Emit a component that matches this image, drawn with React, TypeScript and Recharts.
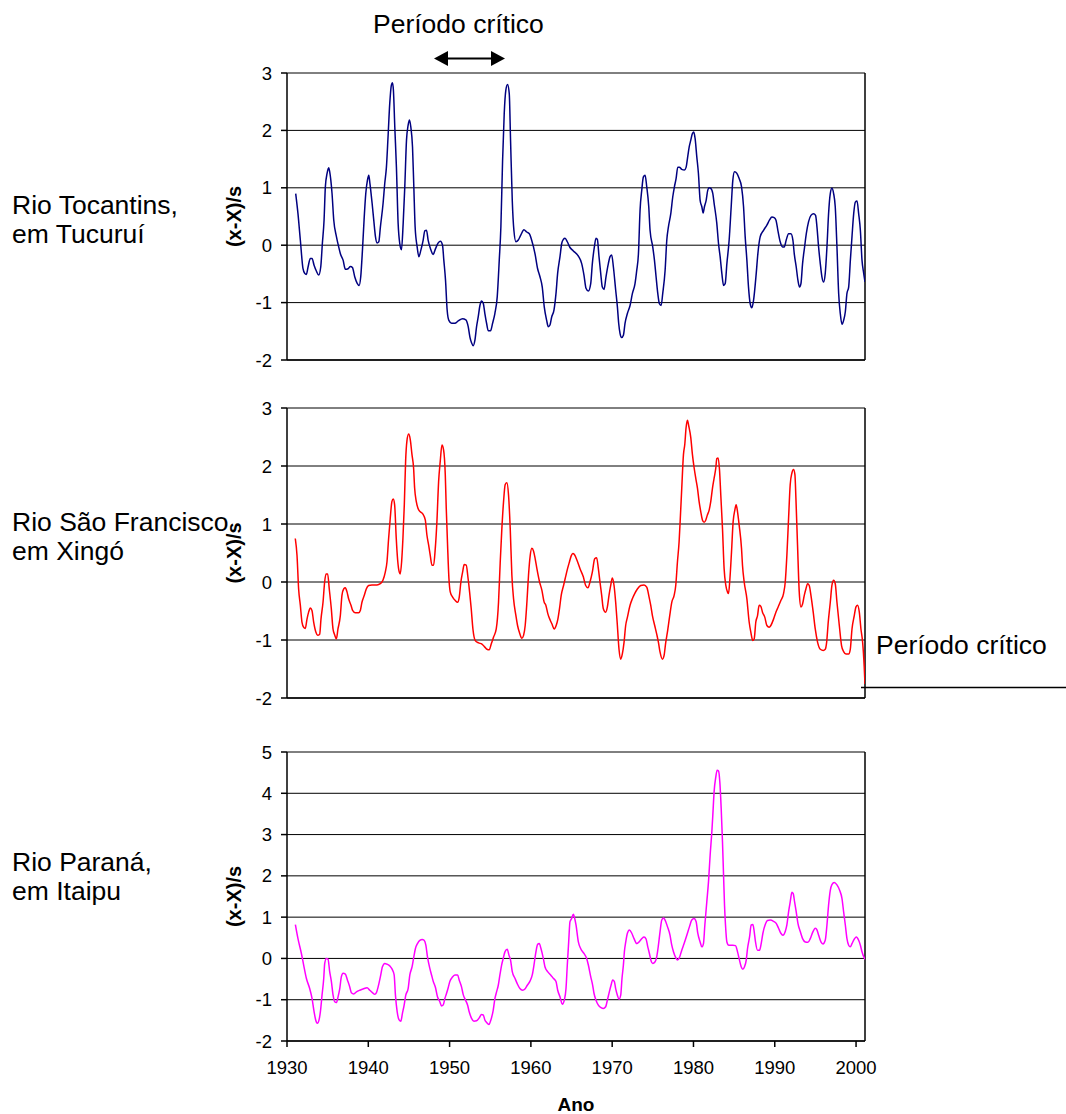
import { LineChart, Line, XAxis, YAxis, CartesianGrid, ReferenceLine, Label } from "recharts";

const FONT = '"Liberation Sans", Arial, sans-serif';

// eixo x comum
const anos = [1930, 1940, 1950, 1960, 1970, 1980, 1990, 2000];
const dominioAnos: [number, number] = [1930, 2001.1];

const ticksTocantins = [-2, -1, 0, 1, 2, 3];
const ticksSaoFrancisco = [-2, -1, 0, 1, 2, 3];
const ticksParana = [-2, -1, 0, 1, 2, 3, 4, 5];

// [ano, (x-X)/s]
const tocantins: [number, number][] = [
	[1931.07, 0.9], [1931.35, 0.55], [1931.64, 0.09], [1931.97, -0.41], [1932.18, -0.49], [1932.38, -0.51], [1932.59, -0.38], [1932.87, -0.23], [1933.08, -0.23], [1933.33, -0.35], [1933.61, -0.45], [1933.9, -0.52], [1934.15, -0.38], [1934.35, 0.03], [1934.56, 0.44], [1934.72, 1.02], [1934.93, 1.25], [1935.13, 1.35], [1935.25, 1.28], [1935.54, 0.9], [1935.75, 0.44], [1936.08, 0.15], [1936.36, -0.03], [1936.57, -0.15], [1936.9, -0.26], [1937.18, -0.42], [1937.51, -0.41], [1937.8, -0.37], [1938.05, -0.39], [1938.33, -0.55], [1938.62, -0.66], [1938.87, -0.7], [1939.07, -0.55], [1939.28, -0.09], [1939.48, 0.44], [1939.69, 0.9], [1939.89, 1.13], [1940.06, 1.22], [1940.18, 1.1], [1940.47, 0.73], [1940.67, 0.44], [1940.88, 0.15], [1941.08, 0.04], [1941.29, 0.06], [1941.49, 0.32], [1941.82, 0.73], [1942.02, 1.07], [1942.23, 1.36], [1942.43, 1.89], [1942.64, 2.47], [1942.84, 2.79], [1942.97, 2.83], [1943.09, 2.7], [1943.26, 2.06], [1943.46, 1.36], [1943.67, 0.38], [1943.87, 0.03], [1944.08, -0.08], [1944.29, 0.38], [1944.49, 1.02], [1944.7, 1.83], [1944.9, 2.09], [1945.07, 2.18], [1945.23, 2.06], [1945.44, 1.71], [1945.6, 1.02], [1945.76, 0.32], [1946.01, -0.03], [1946.22, -0.2], [1946.46, -0.09], [1946.75, 0.09], [1946.95, 0.25], [1947.16, 0.26], [1947.36, 0.09], [1947.65, -0.06], [1947.98, -0.16], [1948.27, -0.06], [1948.6, 0.04], [1948.88, 0.07], [1949.13, 0.0], [1949.29, -0.26], [1949.5, -0.61], [1949.7, -1.13], [1949.91, -1.31], [1950.24, -1.36], [1950.65, -1.36], [1951.06, -1.32], [1951.59, -1.28], [1952.0, -1.3], [1952.29, -1.42], [1952.5, -1.6], [1952.7, -1.7], [1952.91, -1.75], [1953.11, -1.66], [1953.32, -1.42], [1953.52, -1.25], [1953.73, -1.05], [1953.93, -0.97], [1954.14, -1.01], [1954.34, -1.19], [1954.55, -1.36], [1954.75, -1.49], [1955.04, -1.49], [1955.29, -1.36], [1955.57, -1.19], [1955.86, -0.9], [1956.11, -0.26], [1956.31, 0.32], [1956.52, 1.48], [1956.72, 2.29], [1956.92, 2.7], [1957.13, 2.8], [1957.34, 2.64], [1957.5, 1.83], [1957.71, 0.78], [1957.91, 0.26], [1958.16, 0.06], [1958.45, 0.09], [1958.74, 0.17], [1959.15, 0.27], [1959.48, 0.23], [1959.81, 0.2], [1960.09, 0.09], [1960.51, -0.15], [1960.83, -0.41], [1961.12, -0.55], [1961.4, -0.73], [1961.65, -1.08], [1961.94, -1.31], [1962.14, -1.42], [1962.35, -1.39], [1962.56, -1.25], [1962.84, -1.13], [1963.09, -0.84], [1963.29, -0.49], [1963.58, -0.2], [1963.79, 0.03], [1963.99, 0.1], [1964.2, 0.12], [1964.48, 0.06], [1964.81, -0.04], [1965.22, -0.1], [1965.84, -0.19], [1966.25, -0.32], [1966.53, -0.52], [1966.78, -0.75], [1967.07, -0.8], [1967.36, -0.67], [1967.56, -0.32], [1967.81, -0.03], [1968.01, 0.12], [1968.18, 0.1], [1968.38, -0.2], [1968.59, -0.49], [1968.79, -0.73], [1969.0, -0.77], [1969.24, -0.55], [1969.53, -0.32], [1969.74, -0.2], [1969.94, -0.17], [1970.15, -0.38], [1970.43, -0.78], [1970.64, -1.07], [1970.8, -1.36], [1970.97, -1.54], [1971.17, -1.61], [1971.38, -1.57], [1971.58, -1.36], [1971.87, -1.19], [1972.2, -1.05], [1972.49, -0.84], [1972.81, -0.67], [1973.02, -0.44], [1973.23, -0.15], [1973.43, 0.61], [1973.64, 0.96], [1973.84, 1.19], [1974.05, 1.22], [1974.25, 1.02], [1974.5, 0.67], [1974.66, 0.26], [1974.99, -0.03], [1975.2, -0.26], [1975.4, -0.55], [1975.61, -0.84], [1975.81, -1.02], [1976.02, -1.05], [1976.22, -0.84], [1976.51, -0.44], [1976.72, 0.09], [1976.92, 0.32], [1977.21, 0.55], [1977.45, 0.84], [1977.66, 1.02], [1977.86, 1.16], [1978.07, 1.36], [1978.27, 1.36], [1978.56, 1.32], [1978.89, 1.31], [1979.1, 1.36], [1979.26, 1.51], [1979.47, 1.71], [1979.67, 1.83], [1979.88, 1.95], [1980.04, 1.97], [1980.2, 1.86], [1980.41, 1.54], [1980.61, 1.25], [1980.82, 0.78], [1981.03, 0.67], [1981.19, 0.56], [1981.35, 0.67], [1981.56, 0.78], [1981.76, 0.96], [1981.93, 1.0], [1982.13, 0.99], [1982.38, 0.9], [1982.54, 0.73], [1982.87, 0.38], [1983.08, 0.03], [1983.28, -0.2], [1983.49, -0.49], [1983.7, -0.7], [1983.9, -0.67], [1984.11, -0.32], [1984.39, 0.09], [1984.64, 0.67], [1984.84, 1.13], [1985.05, 1.28], [1985.34, 1.25], [1985.62, 1.16], [1985.91, 1.02], [1986.16, 0.67], [1986.36, 0.15], [1986.57, -0.26], [1986.77, -0.73], [1986.98, -1.02], [1987.18, -1.09], [1987.39, -0.96], [1987.72, -0.49], [1987.92, -0.15], [1988.21, 0.15], [1988.62, 0.26], [1989.03, 0.35], [1989.36, 0.44], [1989.65, 0.49], [1989.93, 0.48], [1990.14, 0.44], [1990.38, 0.26], [1990.67, 0.06], [1990.96, -0.03], [1991.17, -0.03], [1991.41, 0.09], [1991.7, 0.2], [1991.99, 0.2], [1992.23, 0.09], [1992.4, -0.15], [1992.64, -0.38], [1992.85, -0.61], [1993.05, -0.73], [1993.22, -0.67], [1993.42, -0.32], [1993.67, -0.03], [1993.88, 0.2], [1994.16, 0.41], [1994.45, 0.52], [1994.78, 0.55], [1995.02, 0.52], [1995.19, 0.32], [1995.39, -0.03], [1995.6, -0.32], [1995.8, -0.55], [1996.01, -0.64], [1996.21, -0.49], [1996.42, -0.03], [1996.62, 0.55], [1996.83, 0.9], [1997.03, 0.99], [1997.24, 0.9], [1997.44, 0.67], [1997.65, -0.03], [1997.86, -0.84], [1998.06, -1.19], [1998.27, -1.38], [1998.47, -1.31], [1998.68, -1.16], [1998.88, -0.84], [1999.09, -0.73], [1999.3, -0.26], [1999.5, 0.15], [1999.71, 0.55], [1999.91, 0.75], [2000.12, 0.77], [2000.32, 0.55], [2000.53, 0.26], [2000.73, -0.26], [2000.94, -0.49], [2001.1, -0.64],
];

const saoFrancisco: [number, number][] = [
	[1931.02, 0.75], [1931.23, 0.46], [1931.43, -0.12], [1931.64, -0.4], [1931.84, -0.69], [1932.05, -0.78], [1932.25, -0.8], [1932.46, -0.64], [1932.66, -0.52], [1932.87, -0.45], [1933.07, -0.49], [1933.28, -0.69], [1933.57, -0.87], [1933.77, -0.92], [1934.02, -0.9], [1934.18, -0.64], [1934.43, -0.35], [1934.63, 0.0], [1934.8, 0.14], [1935.0, 0.14], [1935.2, -0.12], [1935.45, -0.46], [1935.66, -0.81], [1935.86, -0.91], [1936.07, -0.98], [1936.27, -0.81], [1936.56, -0.58], [1936.76, -0.23], [1936.97, -0.12], [1937.17, -0.1], [1937.38, -0.17], [1937.58, -0.29], [1937.87, -0.4], [1938.07, -0.49], [1938.4, -0.53], [1938.81, -0.53], [1939.02, -0.49], [1939.22, -0.35], [1939.51, -0.23], [1939.75, -0.12], [1940.04, -0.06], [1940.45, -0.05], [1941.07, -0.05], [1941.48, -0.03], [1941.8, 0.03], [1942.09, 0.17], [1942.3, 0.35], [1942.5, 0.75], [1942.7, 1.1], [1942.91, 1.39], [1943.07, 1.43], [1943.24, 1.33], [1943.44, 0.75], [1943.61, 0.38], [1943.81, 0.17], [1943.93, 0.14], [1944.1, 0.35], [1944.26, 0.75], [1944.43, 1.33], [1944.59, 2.08], [1944.75, 2.43], [1944.96, 2.55], [1945.16, 2.46], [1945.37, 2.2], [1945.57, 1.97], [1945.7, 1.62], [1945.9, 1.39], [1946.11, 1.27], [1946.39, 1.21], [1946.72, 1.17], [1947.01, 1.07], [1947.21, 0.81], [1947.42, 0.64], [1947.62, 0.46], [1947.83, 0.29], [1948.03, 0.29], [1948.24, 0.58], [1948.44, 1.04], [1948.65, 1.73], [1948.85, 2.08], [1949.06, 2.36], [1949.26, 2.28], [1949.47, 1.85], [1949.59, 1.27], [1949.75, 0.64], [1949.92, 0.06], [1950.08, -0.17], [1950.37, -0.26], [1950.7, -0.32], [1950.98, -0.35], [1951.19, -0.26], [1951.39, 0.0], [1951.6, 0.17], [1951.8, 0.3], [1952.05, 0.29], [1952.25, 0.09], [1952.46, -0.17], [1952.66, -0.46], [1952.87, -0.81], [1953.16, -1.01], [1953.57, -1.05], [1953.98, -1.07], [1954.26, -1.11], [1954.59, -1.16], [1954.88, -1.17], [1955.12, -1.07], [1955.41, -0.95], [1955.74, -0.81], [1956.02, -0.35], [1956.23, 0.35], [1956.43, 0.92], [1956.64, 1.39], [1956.84, 1.68], [1957.05, 1.71], [1957.25, 1.5], [1957.46, 0.92], [1957.66, 0.12], [1957.87, -0.29], [1958.16, -0.58], [1958.36, -0.75], [1958.61, -0.88], [1958.89, -0.97], [1959.1, -0.92], [1959.3, -0.75], [1959.51, -0.35], [1959.71, 0.12], [1959.92, 0.46], [1960.12, 0.58], [1960.33, 0.53], [1960.53, 0.4], [1960.74, 0.23], [1961.07, 0.0], [1961.35, -0.14], [1961.64, -0.35], [1961.84, -0.4], [1962.09, -0.55], [1962.38, -0.66], [1962.58, -0.72], [1962.87, -0.81], [1963.11, -0.75], [1963.32, -0.64], [1963.52, -0.46], [1963.73, -0.23], [1964.02, -0.06], [1964.22, 0.06], [1964.51, 0.23], [1964.75, 0.35], [1964.96, 0.45], [1965.16, 0.49], [1965.37, 0.47], [1965.66, 0.38], [1966.07, 0.22], [1966.45, 0.09], [1966.74, -0.06], [1967.02, -0.1], [1967.27, 0.0], [1967.56, 0.17], [1967.85, 0.4], [1968.09, 0.42], [1968.3, 0.23], [1968.5, 0.0], [1968.71, -0.23], [1968.91, -0.46], [1969.2, -0.52], [1969.41, -0.43], [1969.61, -0.23], [1969.82, -0.06], [1970.02, 0.07], [1970.23, -0.06], [1970.43, -0.35], [1970.64, -0.75], [1970.84, -1.16], [1971.05, -1.33], [1971.25, -1.24], [1971.46, -1.04], [1971.66, -0.75], [1971.87, -0.61], [1972.2, -0.4], [1972.48, -0.29], [1972.77, -0.2], [1973.1, -0.12], [1973.51, -0.06], [1973.92, -0.05], [1974.25, -0.09], [1974.54, -0.26], [1974.74, -0.4], [1974.95, -0.58], [1975.23, -0.75], [1975.48, -0.9], [1975.69, -1.04], [1975.89, -1.21], [1976.18, -1.33], [1976.38, -1.27], [1976.59, -1.04], [1976.79, -0.87], [1977.08, -0.58], [1977.33, -0.35], [1977.62, -0.23], [1977.82, -0.06], [1978.03, 0.35], [1978.23, 0.69], [1978.36, 1.04], [1978.56, 1.62], [1978.77, 2.2], [1978.93, 2.37], [1979.09, 2.66], [1979.26, 2.79], [1979.42, 2.69], [1979.67, 2.49], [1979.87, 2.2], [1980.08, 1.97], [1980.28, 1.79], [1980.49, 1.62], [1980.69, 1.39], [1980.9, 1.21], [1981.1, 1.07], [1981.31, 1.03], [1981.52, 1.07], [1981.72, 1.16], [1981.93, 1.24], [1982.13, 1.39], [1982.34, 1.62], [1982.54, 1.79], [1982.75, 1.97], [1982.87, 2.13], [1983.03, 2.14], [1983.2, 1.94], [1983.36, 1.5], [1983.57, 0.92], [1983.77, 0.23], [1983.98, -0.06], [1984.18, -0.17], [1984.31, -0.2], [1984.47, 0.03], [1984.68, 0.52], [1984.88, 1.04], [1985.09, 1.24], [1985.25, 1.33], [1985.42, 1.21], [1985.62, 0.98], [1985.91, 0.58], [1986.03, 0.29], [1986.24, 0.0], [1986.57, -0.29], [1986.85, -0.69], [1987.06, -0.87], [1987.3, -1.01], [1987.47, -0.98], [1987.67, -0.69], [1987.88, -0.58], [1988.08, -0.4], [1988.29, -0.42], [1988.49, -0.52], [1988.78, -0.61], [1989.03, -0.75], [1989.31, -0.78], [1989.52, -0.75], [1989.85, -0.64], [1990.14, -0.52], [1990.42, -0.43], [1990.75, -0.32], [1991.08, -0.2], [1991.29, 0.0], [1991.49, 0.46], [1991.7, 1.1], [1991.9, 1.68], [1992.11, 1.88], [1992.31, 1.94], [1992.48, 1.85], [1992.6, 1.45], [1992.8, 0.64], [1993.01, -0.17], [1993.22, -0.43], [1993.42, -0.38], [1993.63, -0.23], [1993.83, -0.12], [1994.04, -0.03], [1994.24, -0.06], [1994.45, -0.23], [1994.73, -0.52], [1994.98, -0.81], [1995.27, -1.04], [1995.6, -1.16], [1995.97, -1.18], [1996.21, -1.16], [1996.38, -1.04], [1996.58, -0.69], [1996.83, -0.35], [1997.03, -0.06], [1997.24, 0.03], [1997.44, -0.03], [1997.65, -0.35], [1997.94, -0.75], [1998.22, -1.1], [1998.47, -1.2], [1998.76, -1.24], [1999.09, -1.24], [1999.29, -1.16], [1999.5, -0.81], [1999.78, -0.58], [1999.99, -0.43], [2000.19, -0.4], [2000.4, -0.52], [2000.6, -0.81], [2000.81, -1.04], [2001.0, -1.45], [2001.1, -1.76],
];

const parana: [number, number][] = [
	[1931.03, 0.82], [1931.35, 0.48], [1931.77, 0.12], [1932.05, -0.16], [1932.38, -0.48], [1932.79, -0.73], [1933.08, -0.97], [1933.33, -1.29], [1933.53, -1.49], [1933.74, -1.57], [1933.94, -1.49], [1934.11, -1.29], [1934.31, -0.89], [1934.52, -0.48], [1934.64, -0.12], [1934.84, 0.0], [1935.05, -0.02], [1935.25, -0.32], [1935.46, -0.56], [1935.67, -0.89], [1935.87, -1.05], [1936.08, -1.07], [1936.28, -0.93], [1936.49, -0.73], [1936.69, -0.44], [1936.9, -0.36], [1937.18, -0.38], [1937.43, -0.52], [1937.72, -0.69], [1937.92, -0.83], [1938.21, -0.86], [1938.54, -0.81], [1938.95, -0.77], [1939.36, -0.74], [1939.85, -0.71], [1940.18, -0.77], [1940.51, -0.83], [1940.8, -0.87], [1941.0, -0.83], [1941.21, -0.69], [1941.49, -0.44], [1941.74, -0.2], [1942.03, -0.12], [1942.32, -0.14], [1942.64, -0.18], [1942.93, -0.26], [1943.18, -0.4], [1943.34, -0.89], [1943.55, -1.29], [1943.79, -1.49], [1944.0, -1.52], [1944.2, -1.33], [1944.41, -1.13], [1944.61, -0.89], [1944.9, -0.73], [1945.11, -0.4], [1945.39, -0.2], [1945.6, 0.04], [1945.8, 0.24], [1946.05, 0.36], [1946.34, 0.44], [1946.63, 0.46], [1946.87, 0.44], [1947.08, 0.32], [1947.28, 0.04], [1947.57, -0.24], [1947.78, -0.4], [1947.98, -0.55], [1948.27, -0.71], [1948.51, -0.93], [1948.8, -1.05], [1949.01, -1.15], [1949.21, -1.13], [1949.42, -0.97], [1949.62, -0.85], [1949.83, -0.71], [1950.03, -0.56], [1950.32, -0.46], [1950.65, -0.4], [1950.98, -0.4], [1951.18, -0.52], [1951.47, -0.69], [1951.67, -0.87], [1951.96, -1.01], [1952.21, -1.13], [1952.41, -1.29], [1952.7, -1.45], [1952.99, -1.52], [1953.32, -1.51], [1953.65, -1.44], [1953.93, -1.36], [1954.14, -1.37], [1954.34, -1.49], [1954.55, -1.55], [1954.84, -1.6], [1955.08, -1.49], [1955.37, -1.25], [1955.58, -0.97], [1955.78, -0.81], [1955.99, -0.65], [1956.19, -0.4], [1956.4, -0.16], [1956.6, 0.0], [1956.81, 0.16], [1957.09, 0.22], [1957.3, 0.08], [1957.5, -0.04], [1957.71, -0.32], [1958.04, -0.48], [1958.32, -0.61], [1958.65, -0.73], [1958.98, -0.77], [1959.27, -0.74], [1959.56, -0.65], [1959.89, -0.55], [1960.17, -0.4], [1960.38, -0.16], [1960.62, 0.16], [1960.83, 0.34], [1961.03, 0.36], [1961.24, 0.24], [1961.53, 0.0], [1961.73, -0.2], [1962.06, -0.32], [1962.43, -0.4], [1962.76, -0.48], [1963.09, -0.56], [1963.3, -0.77], [1963.58, -0.93], [1963.87, -1.11], [1964.11, -1.01], [1964.32, -0.73], [1964.48, -0.16], [1964.65, 0.4], [1964.81, 0.89], [1965.02, 0.97], [1965.22, 1.07], [1965.34, 1.01], [1965.55, 0.81], [1965.84, 0.4], [1966.12, 0.24], [1966.53, 0.12], [1966.86, 0.0], [1967.07, -0.16], [1967.36, -0.44], [1967.6, -0.65], [1967.77, -0.85], [1968.01, -1.01], [1968.3, -1.13], [1968.63, -1.19], [1968.91, -1.21], [1969.2, -1.17], [1969.41, -1.01], [1969.65, -0.81], [1969.86, -0.65], [1970.06, -0.52], [1970.27, -0.56], [1970.43, -0.73], [1970.64, -0.89], [1970.84, -0.99], [1971.05, -0.89], [1971.21, -0.48], [1971.38, -0.16], [1971.5, 0.16], [1971.67, 0.4], [1971.87, 0.61], [1972.12, 0.69], [1972.41, 0.61], [1972.69, 0.48], [1973.02, 0.36], [1973.31, 0.4], [1973.64, 0.48], [1973.92, 0.52], [1974.17, 0.47], [1974.38, 0.28], [1974.58, 0.12], [1974.79, -0.06], [1974.99, -0.12], [1975.28, -0.08], [1975.48, 0.04], [1975.69, 0.32], [1975.89, 0.65], [1976.1, 0.93], [1976.3, 0.98], [1976.51, 0.93], [1976.8, 0.77], [1977.12, 0.56], [1977.33, 0.32], [1977.54, 0.16], [1977.82, 0.02], [1978.03, -0.04], [1978.27, 0.02], [1978.56, 0.2], [1978.85, 0.36], [1979.18, 0.56], [1979.51, 0.77], [1979.79, 0.93], [1980.08, 0.97], [1980.33, 0.89], [1980.53, 0.61], [1980.82, 0.4], [1981.03, 0.28], [1981.23, 0.36], [1981.4, 0.81], [1981.64, 1.37], [1981.85, 1.86], [1982.05, 2.5], [1982.26, 3.07], [1982.38, 3.47], [1982.54, 4.04], [1982.75, 4.4], [1982.91, 4.56], [1983.08, 4.54], [1983.24, 4.28], [1983.41, 3.63], [1983.57, 2.82], [1983.7, 2.02], [1983.82, 1.29], [1983.94, 0.81], [1984.11, 0.4], [1984.35, 0.32], [1984.84, 0.32], [1985.17, 0.31], [1985.42, 0.16], [1985.66, -0.04], [1985.87, -0.2], [1986.07, -0.26], [1986.28, -0.2], [1986.49, -0.04], [1986.65, 0.24], [1986.9, 0.52], [1987.1, 0.81], [1987.31, 0.82], [1987.47, 0.65], [1987.63, 0.4], [1987.88, 0.2], [1988.13, 0.2], [1988.33, 0.36], [1988.54, 0.61], [1988.83, 0.82], [1989.11, 0.92], [1989.44, 0.93], [1989.85, 0.9], [1990.18, 0.85], [1990.47, 0.73], [1990.75, 0.61], [1991.0, 0.56], [1991.29, 0.65], [1991.49, 0.81], [1991.7, 1.13], [1991.9, 1.37], [1992.11, 1.6], [1992.27, 1.57], [1992.44, 1.37], [1992.64, 1.13], [1992.85, 0.85], [1993.14, 0.65], [1993.42, 0.48], [1993.75, 0.4], [1994.08, 0.39], [1994.37, 0.48], [1994.66, 0.63], [1994.99, 0.73], [1995.19, 0.69], [1995.4, 0.56], [1995.68, 0.4], [1995.93, 0.35], [1996.21, 0.44], [1996.42, 0.81], [1996.62, 1.29], [1996.83, 1.65], [1997.03, 1.79], [1997.32, 1.84], [1997.65, 1.78], [1997.98, 1.65], [1998.27, 1.45], [1998.47, 1.13], [1998.68, 0.81], [1998.88, 0.48], [1999.09, 0.32], [1999.29, 0.28], [1999.5, 0.36], [1999.79, 0.47], [2000.03, 0.52], [2000.32, 0.44], [2000.53, 0.32], [2000.73, 0.16], [2000.94, 0.04], [2001.1, -0.02],
];

interface PainelProps {
	pontos: [number, number][];
	cor: string;
	yTicks: number[];
	top: number;
	plotH: number;
	ultimo?: boolean;
}

function Painel({ pontos, cor, yTicks, top, plotH, ultimo }: PainelProps) {
	const axisH = ultimo ? 73 : 30;
	const data = pontos.map(([ano, v]) => ({ ano, v }));
	const tickStyle = { fontSize: 18.5, fill: "#000", fontFamily: FONT };

	return (
		<div style={{ position: "absolute", left: 0, top: top - 10 }}>
			<LineChart
				width={1066}
				height={10 + plotH + axisH}
				data={data}
				margin={{ top: 10, right: 201, bottom: 0, left: 181 }}
			>
				<CartesianGrid vertical={false} stroke="#000" strokeWidth={1} />
				<XAxis
					dataKey="ano"
					type="number"
					domain={dominioAnos}
					ticks={anos}
					interval={0}
					allowDataOverflow
					height={axisH}
					stroke="#000"
					strokeWidth={1.5}
					tickSize={6}
					tickMargin={14}
					tick={ultimo ? tickStyle : false}
				>
					{ultimo && (
						<Label
							value="Ano"
							position="insideBottom"
							offset={3}
							fill="#000"
							fontSize={19}
							fontWeight="bold"
							fontFamily={FONT}
						/>
					)}
				</XAxis>
				<YAxis
					type="number"
					domain={[yTicks[0], yTicks[yTicks.length - 1]]}
					ticks={yTicks}
					interval={0}
					width={106}
					stroke="#000"
					strokeWidth={1.5}
					tickSize={6}
					tickMargin={9}
					tick={tickStyle}
				>
					<Label
						value="(x-X)/s"
						angle={-90}
						position="center"
						fill="#000"
						fontSize={20}
						fontWeight="bold"
						fontFamily={FONT}
					/>
				</YAxis>
				<ReferenceLine x={dominioAnos[1]} stroke="#000" strokeWidth={1.5} />
				<Line
					type="monotone"
					dataKey="v"
					stroke={cor}
					strokeWidth={1.5}
					dot={false}
					activeDot={false}
					isAnimationActive={false}
				/>
			</LineChart>
		</div>
	);
}

export default function App() {
	const txt = { fontFamily: FONT, fontSize: 26.5, fill: "#000" };
	return (
		<div
			style={{
				position: "absolute",
				left: 0,
				top: 0,
				width: 1066,
				height: 1114,
				overflow: "hidden",
				background: "#fff",
			}}
		>
			<Painel pontos={tocantins} cor="#000080" yTicks={ticksTocantins} top={72.5} plotH={287} />
			<Painel pontos={saoFrancisco} cor="#ff0000" yTicks={ticksSaoFrancisco} top={407.5} plotH={290} />
			<Painel pontos={parana} cor="#ff00ff" yTicks={ticksParana} top={752} plotH={289} ultimo />

			<svg
				width={1066}
				height={1114}
				style={{ position: "absolute", left: 0, top: 0, pointerEvents: "none" }}
			>
				<text x={373} y={33} {...txt}>Período crítico</text>
				<line x1={445} y1={58.5} x2={494} y2={58.5} stroke="#000" strokeWidth={2} />
				<polygon points="434,58.5 448,51 448,66" fill="#000" />
				<polygon points="505,58.5 491,51 491,66" fill="#000" />

				<text x={12} y={214} {...txt}>Rio Tocantins,</text>
				<text x={12} y={243} {...txt}>em Tucuruí</text>

				<text x={12} y={531} {...txt}>Rio São Francisco</text>
				<text x={12} y={560} {...txt}>em Xingó</text>

				<text x={12} y={871} {...txt}>Rio Paraná,</text>
				<text x={12} y={900} {...txt}>em Itaipu</text>

				<text x={876} y={654} {...txt}>Período crítico</text>
				<line x1={861} y1={687.5} x2={1066} y2={687.5} stroke="#000" strokeWidth={1.5} />
			</svg>
		</div>
	);
}
